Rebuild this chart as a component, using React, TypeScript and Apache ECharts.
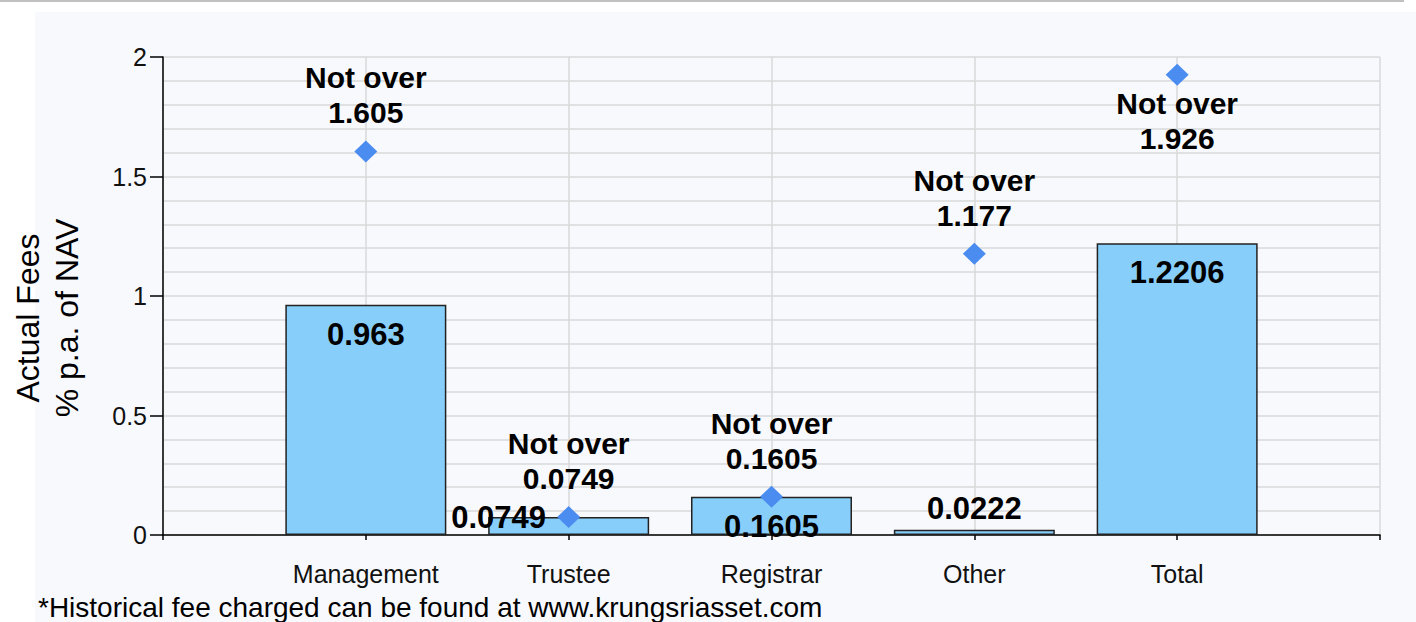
import React, { useEffect, useRef } from "react";
import * as echarts from "echarts";

const categories = ["Management", "Trustee", "Registrar", "Other", "Total"];
const actualFees = [0.963, 0.0749, 0.1605, 0.0222, 1.2206];
const maxFees = [1.605, 0.0749, 0.1605, 1.177, 1.926];
const yTicks = [0, 0.5, 1, 1.5, 2];
const yTitle = "Actual Fees\n% p.a. of NAV";
const footnote = "*Historical fee charged can be found at www.krungsriasset.com";

const FONT = "'Liberation Sans', Arial, sans-serif";

export default function App() {
  const ref = useRef<HTMLDivElement>(null);

  useEffect(() => {
    if (!ref.current) return;
    const chart = echarts.init(ref.current, null, { renderer: "svg" });

    const axisCats = ["", ...categories, ""];

    const barLabel = (i: number) => {
      const base = {
        show: true,
        color: "#000",
        fontFamily: FONT,
        fontWeight: "bold",
        fontSize: 31,
        lineHeight: 35,
        formatter: String(actualFees[i]),
      };
      if (categories[i] === "Other") return { ...base, position: "top", distance: 4 };
      if (categories[i] === "Trustee")
        return { ...base, position: [-37, 0], align: "left", verticalAlign: "middle" };
      return { ...base, position: "insideTop", distance: 12 };
    };

    const barData: any[] = ["-", ...actualFees.map((v, i) => ({ value: v, label: barLabel(i) })), "-"];

    const scatterLabel = (i: number) => {
      const base = {
        show: true,
        color: "#000",
        fontFamily: FONT,
        fontWeight: "bold",
        fontSize: 30,
        lineHeight: 35,
        formatter: "Not over\n" + String(maxFees[i]),
      };
      if (categories[i] === "Total") return { ...base, position: "bottom", distance: 0 };
      return { ...base, position: "top", distance: 10 };
    };
    const scatterData: any[] = ["-", ...maxFees.map((v, i) => ({ value: v, label: scatterLabel(i) })), "-"];

    const option: any = {
      animation: false,
      backgroundColor: "#ffffff",
      graphic: [
        { type: "rect", z: -10, silent: true, shape: { x: 0, y: 0, width: 1404, height: 2 }, style: { fill: "#c0c0c0" } },
        { type: "rect", z: -10, silent: true, shape: { x: 35, y: 12, width: 1381, height: 610 }, style: { fill: "#f8f9fd" } },
        {
          type: "text",
          x: 47,
          y: 318,
          rotation: Math.PI / 2,
          style: {
            text: yTitle,
            font: `32px ${FONT}`,
            fill: "#000",
            align: "center",
            verticalAlign: "middle",
            lineHeight: 39,
          },
        },
        {
          type: "text",
          x: 38,
          y: 607,
          style: {
            text: footnote,
            font: `28px ${FONT}`,
            fill: "#000",
            align: "left",
            verticalAlign: "middle",
          },
        },
      ],
      grid: { left: 163, top: 57, width: 1217, height: 478, containLabel: false },
      xAxis: {
        type: "category",
        data: axisCats,
        boundaryGap: false,
        axisLine: { show: true, lineStyle: { color: "#000", width: 1.5 } },
        axisTick: { show: true, length: 5, alignWithLabel: true, lineStyle: { color: "#000", width: 1.5 } },
        axisLabel: { color: "#111", fontFamily: FONT, fontSize: 25, margin: 26, interval: 0 },
        splitLine: { show: true, lineStyle: { color: "#d9d9d9", width: 1.5 } },
      },
      yAxis: {
        type: "value",
        min: yTicks[0],
        max: yTicks[yTicks.length - 1],
        interval: yTicks[1] - yTicks[0],
        axisLine: { show: true, lineStyle: { color: "#000", width: 1.5 } },
        axisTick: { show: true, length: 13, lineStyle: { color: "#000", width: 1.5 } },
        axisLabel: { color: "#111", fontFamily: FONT, fontSize: 25, margin: 16 },
        splitLine: { show: true, lineStyle: { color: "#d9d9d9", width: 1.5 } },
        minorTick: { show: false, splitNumber: 5 },
        minorSplitLine: { show: true, lineStyle: { color: "#d9d9d9", width: 1.5 } },
      },
      series: [
        {
          type: "bar",
          data: barData,
          barWidth: 161,
          itemStyle: { color: "#87cefa", borderColor: "#222", borderWidth: 1.5 },
          z: 2,
        },
        {
          type: "scatter",
          data: scatterData,
          symbol: "diamond",
          symbolSize: [23, 22],
          itemStyle: { color: "#4a8cf0", opacity: 1 },
          z: 3,
        },
      ],
    };

    chart.setOption(option);
    return () => chart.dispose();
  }, []);

  return (
    <div
      ref={ref}
      style={{ position: "fixed", left: 0, top: 0, width: 1416, height: 622 }}
    />
  );
}
